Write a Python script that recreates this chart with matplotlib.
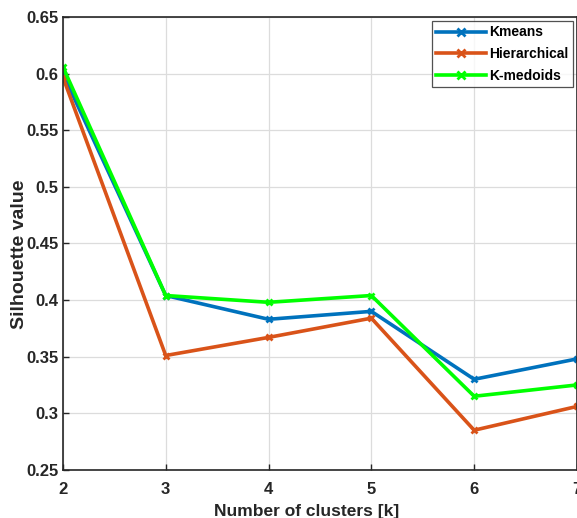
import matplotlib
matplotlib.use('Agg')
import matplotlib.pyplot as plt

plt.rcParams['font.family'] = ['Liberation Sans', 'DejaVu Sans']
plt.rcParams['font.weight'] = 'bold'

# silhouette scores per number of clusters
k = [2, 3, 4, 5, 6, 7]
kmeans = [0.600, 0.404, 0.383, 0.390, 0.330, 0.348]
hierarchical = [0.597, 0.351, 0.367, 0.384, 0.285, 0.306]
kmedoids = [0.606, 0.404, 0.398, 0.404, 0.315, 0.325]

fig = plt.figure(figsize=(5.77, 5.18), dpi=100)
ax = fig.add_axes([0.109, 0.093, 0.891, 0.874])

ax.plot(k, kmeans, color='#0072BD', lw=2.6, marker='x', ms=5, mew=2, label='Kmeans')
ax.plot(k, hierarchical, color='#D95319', lw=2.6, marker='x', ms=5, mew=2, label='Hierarchical')
ax.plot(k, kmedoids, color='#00FF00', lw=2.6, marker='x', ms=5, mew=2, label='K-medoids')

ax.set_xlim(2, 7)
ax.set_ylim(0.25, 0.65)
ax.set_xticks(k)
yt = [0.25, 0.3, 0.35, 0.4, 0.45, 0.5, 0.55, 0.6, 0.65]
ax.set_yticks(yt)
ax.set_yticklabels(['0.25', '0.3', '0.35', '0.4', '0.45', '0.5', '0.55', '0.6', '0.65'])
ax.grid(True, color='#dcdcdc', lw=0.9)
ax.set_axisbelow(True)
ax.tick_params(direction='in', labelsize=12, colors='#262626', length=4, width=1, pad=3)
ax.tick_params(axis='x', pad=9)
for lab in ax.get_xticklabels() + ax.get_yticklabels():
    lab.set_fontweight('bold')
for s in ax.spines.values():
    s.set_color('#262626')
    s.set_linewidth(1.2)

ax.set_xlabel('Number of clusters [k]', fontsize=12.5, fontweight='bold', color='#262626')
ax.set_ylabel('Silhouette value', fontsize=14, fontweight='bold', color='#262626')
ax.xaxis.set_label_coords(0.474, -0.075)
ax.yaxis.set_label_coords(-0.068, 0.477)

leg = ax.legend(loc='upper right', fontsize=10, frameon=True, fancybox=False,
                edgecolor='#262626', handlelength=3.6, borderpad=0.3,
                labelspacing=0.55, handletextpad=0.25, borderaxespad=0.3,
                markerscale=1.2)
leg.get_frame().set_linewidth(0.9)
for t in leg.get_texts():
    t.set_fontweight('bold')

fig.savefig('out.png', dpi=100)
